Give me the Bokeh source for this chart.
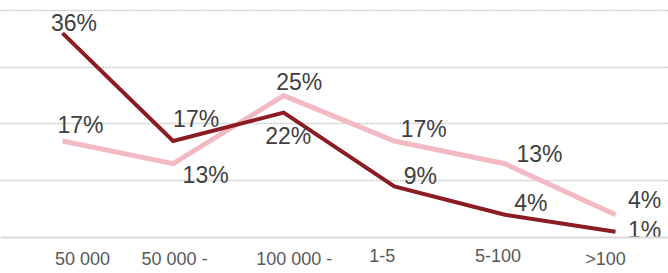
from bokeh.plotting import figure
from bokeh.models import Range1d, Grid, FixedTicker, Span, ColumnDataSource
from bokeh.core.properties import value
from bokeh.embed import file_html
from bokeh.resources import INLINE

# ---- data ----
categories = ["50 000", "50 000 -\n100 000", "100 000 -\n1 mln", "1-5", "5-100", ">100"]
series_dark = [36, 17, 22, 9, 4, 1]
series_pink = [17, 13, 25, 17, 13, 4]
grid_values = [10, 20, 30, 40]

# ---- styling / label placement (screen px) ----
dark_dx = [11.5, 23, 4.5, 26, 26, 29]
dark_dy = [-10.5, -22, 23.5, -10.5, -11.5, -1.5]
pink_dx = [18, 32.5, 15.5, 29.5, 34.5, 29]
pink_dy = [-16, 11.5, -13.5, -12, -9.5, -14.5]
cat_dx = [20, 1.5, 10.5, -12, -7, -10]

DARK = "#8B1C24"
PINK = "#F4BAC3"
FONT = "Liberation Sans"

xs = list(range(len(categories)))

p = figure(width=668, height=273, output_backend="svg", toolbar_location=None,
           x_range=Range1d(-0.5606, 5.4792), y_range=Range1d(-6.344, 41.76),
           x_axis_location=None, y_axis_location=None,
           min_border=0, min_border_left=0, min_border_right=0,
           min_border_top=0, min_border_bottom=0)
p.outline_line_color = None
p.background_fill_color = "white"
p.border_fill_color = "white"
for g in p.grid:
    g.visible = False

grid = Grid(dimension=1, ticker=FixedTicker(ticks=grid_values),
            grid_line_color="#c8c8c8", grid_line_width=1.5, grid_line_dash="2 1")
p.add_layout(grid)
p.add_layout(Span(location=0, dimension="width", line_color="#d9d9d9", line_width=2))

p.line(xs, series_pink, line_color=PINK, line_width=5, line_join="miter")
p.line(xs, series_dark, line_color=DARK, line_width=4, line_join="miter")

src_d = ColumnDataSource(dict(x=xs, y=series_dark, t=[f"{v}%" for v in series_dark],
                              dx=dark_dx, dy=dark_dy))
src_p = ColumnDataSource(dict(x=xs, y=series_pink, t=[f"{v}%" for v in series_pink],
                              dx=pink_dx, dy=pink_dy))
for src in (src_p, src_d):
    p.text(x="x", y="y", text="t", x_offset="dx", y_offset="dy", source=src,
           text_font=value(FONT), text_font_size="23px", text_color="#404040",
           text_align="center", text_baseline="alphabetic")

src_c = ColumnDataSource(dict(x=xs, y=[0] * len(xs), t=categories, dx=cat_dx))
p.text(x="x", y="y", text="t", x_offset="dx", y_offset=12, source=src_c,
       text_font=value(FONT), text_font_size="18px", text_color="#595959",
       text_align="center", text_baseline="top", text_line_height=1.1)

open("out.html", "w").write(file_html(p, INLINE))
